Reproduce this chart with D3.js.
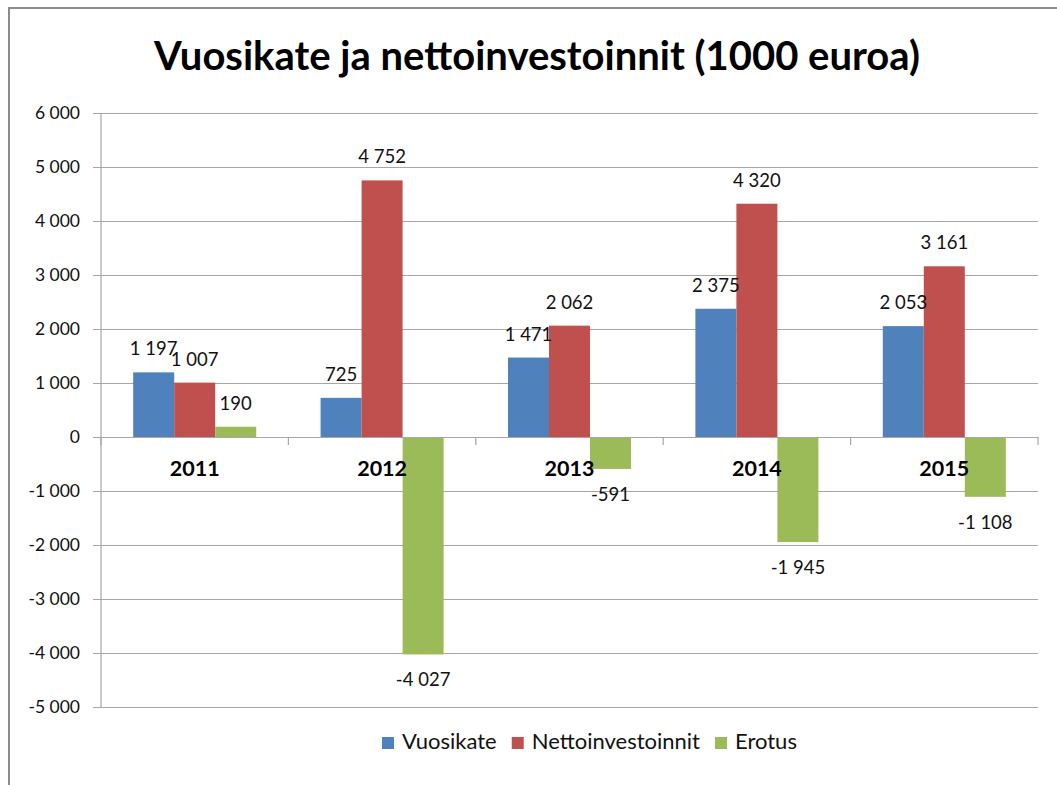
<!DOCTYPE html>
<html>
<head>
<meta charset="utf-8">
<title>Vuosikate ja nettoinvestoinnit</title>
<script src="https://cdn.jsdelivr.net/npm/d3@7"></script>
<style>
	body { margin: 0; background: #fff; }
	svg { display: block; }
	text { font-family: Lato, "Open Sans", sans-serif; fill: #111; }
</style>
</head>
<body>
<div id="chart"></div>
<script>

// chart data
var years = ["2011", "2012", "2013", "2014", "2015"];
var seriesNames = ["Vuosikate", "Nettoinvestoinnit", "Erotus"];
var vuosikate = [1197, 725, 1471, 2375, 2053];
var nettoinvestoinnit = [1007, 4752, 2062, 4320, 3161];
var erotus = [190, -4027, -591, -1945, -1108];
var yTicks = [-5000, -4000, -3000, -2000, -1000, 0, 1000, 2000, 3000, 4000, 5000, 6000];
var colors = ["#4F81BD", "#C0504D", "#9BBB59"];

var seriesValues = [vuosikate, nettoinvestoinnit, erotus];

var W = 1057, H = 785;
var plotLeft = 101, plotRight = 1038, plotTop = 113, plotBottom = 707;

// finnish style numbers: space as thousands separator
var fi = d3.formatLocale({ decimal: ",", thousands: "\u00a0", grouping: [3], currency: ["", " €"], minus: "-" });
var fmt = fi.format(",d");

var svg = d3.select("#chart").append("svg")
	.attr("width", W)
	.attr("height", H);

// chart border
svg.append("rect")
	.attr("x", 9).attr("y", 8)
	.attr("width", 1070).attr("height", 800)
	.attr("fill", "none")
	.attr("stroke", "#8c8c8c")
	.attr("stroke-width", 2);

svg.append("text")
	.attr("x", 537).attr("y", 70)
	.attr("text-anchor", "middle")
	.style("font-size", "40px")
	.style("font-weight", "bold")
	.style("fill", "#000")
	.text("Vuosikate ja nettoinvestoinnit (1000 euroa)");

var y = d3.scaleLinear().domain([-5000, 6000]).range([plotBottom, plotTop]);
var x0 = d3.scaleBand().domain(years).range([plotLeft, plotRight]);
var x1 = d3.scaleBand().domain(seriesNames).range([0, x0.bandwidth()]).paddingOuter(0.785);

// gridlines + y axis
var yAxis = d3.axisLeft(y).tickValues(yTicks).tickSize(-(plotRight - plotLeft)).tickPadding(13).tickFormat(fmt);
var gy = svg.append("g").attr("transform", "translate(" + plotLeft + ",0)").call(yAxis);
gy.select(".domain").remove();
gy.selectAll(".tick line").attr("x1", -8).attr("stroke", "#a6a6a6").attr("stroke-width", 1.2);
gy.selectAll(".tick text").attr("x", -21).style("font-size", "17.5px").style("fill", "#111").attr("font-family", null);
svg.append("line")
	.attr("x1", plotLeft).attr("x2", plotLeft).attr("y1", plotTop).attr("y2", plotBottom)
	.attr("stroke", "#a6a6a6").attr("stroke-width", 1.2);

// bars
var groups = svg.selectAll(".yr").data(years).enter().append("g")
	.attr("class", "yr")
	.attr("transform", function(d) { return "translate(" + x0(d) + ",0)"; });

groups.selectAll("rect")
	.data(function(d, i) { return seriesNames.map(function(s, j) { return { s: s, v: seriesValues[j][i], c: colors[j] }; }); })
	.enter().append("rect")
	.attr("x", function(d) { return x1(d.s); })
	.attr("width", x1.bandwidth())
	.attr("y", function(d) { return y(Math.max(0, d.v)); })
	.attr("height", function(d) { return Math.abs(y(d.v) - y(0)); })
	.attr("fill", function(d) { return d.c; });

// category axis on zero line
var xAxis = d3.axisBottom(x0).tickSize(0).tickPadding(0);
var gx = svg.append("g").attr("transform", "translate(0," + y(0) + ")").call(xAxis);
gx.select(".domain").attr("stroke", "#a6a6a6").attr("stroke-width", 1.2);
gx.selectAll(".tick text").attr("y", 39).attr("dy", null).attr("font-family", null)
	.style("font-size", "21.5px").style("font-weight", "bold").style("fill", "#000");
gx.selectAll(".sep").data(d3.range(years.length + 1)).enter().append("line")
	.attr("class", "sep")
	.attr("x1", function(i) { return plotLeft + i * x0.step(); })
	.attr("x2", function(i) { return plotLeft + i * x0.step(); })
	.attr("y1", 0).attr("y2", 8)
	.attr("stroke", "#a6a6a6").attr("stroke-width", 1.2);

// data labels
groups.selectAll(".lbl")
	.data(function(d, i) { return seriesNames.map(function(s, j) { return { s: s, v: seriesValues[j][i] }; }); })
	.enter().append("text")
	.attr("class", "lbl")
	.attr("x", function(d) { return x1(d.s) + x1.bandwidth() / 2; })
	.attr("y", function(d) { return d.v >= 0 ? y(d.v) - 17 : y(d.v) + 32; })
	.attr("text-anchor", "middle")
	.style("font-size", "18.5px")
	.text(function(d) { return fmt(d.v); });

// legend
var legend = svg.append("g").attr("transform", "translate(382,749)");
var lx = 0;
seriesNames.forEach(function(s, i) {
	legend.append("rect").attr("x", lx).attr("y", -12).attr("width", 12).attr("height", 12).attr("fill", colors[i]);
	var t = legend.append("text").attr("x", lx + 20).attr("y", 0).style("font-size", "22px").text(s);
	lx += 20 + t.node().getComputedTextLength() + 15;
});

</script>
</body>
</html>
